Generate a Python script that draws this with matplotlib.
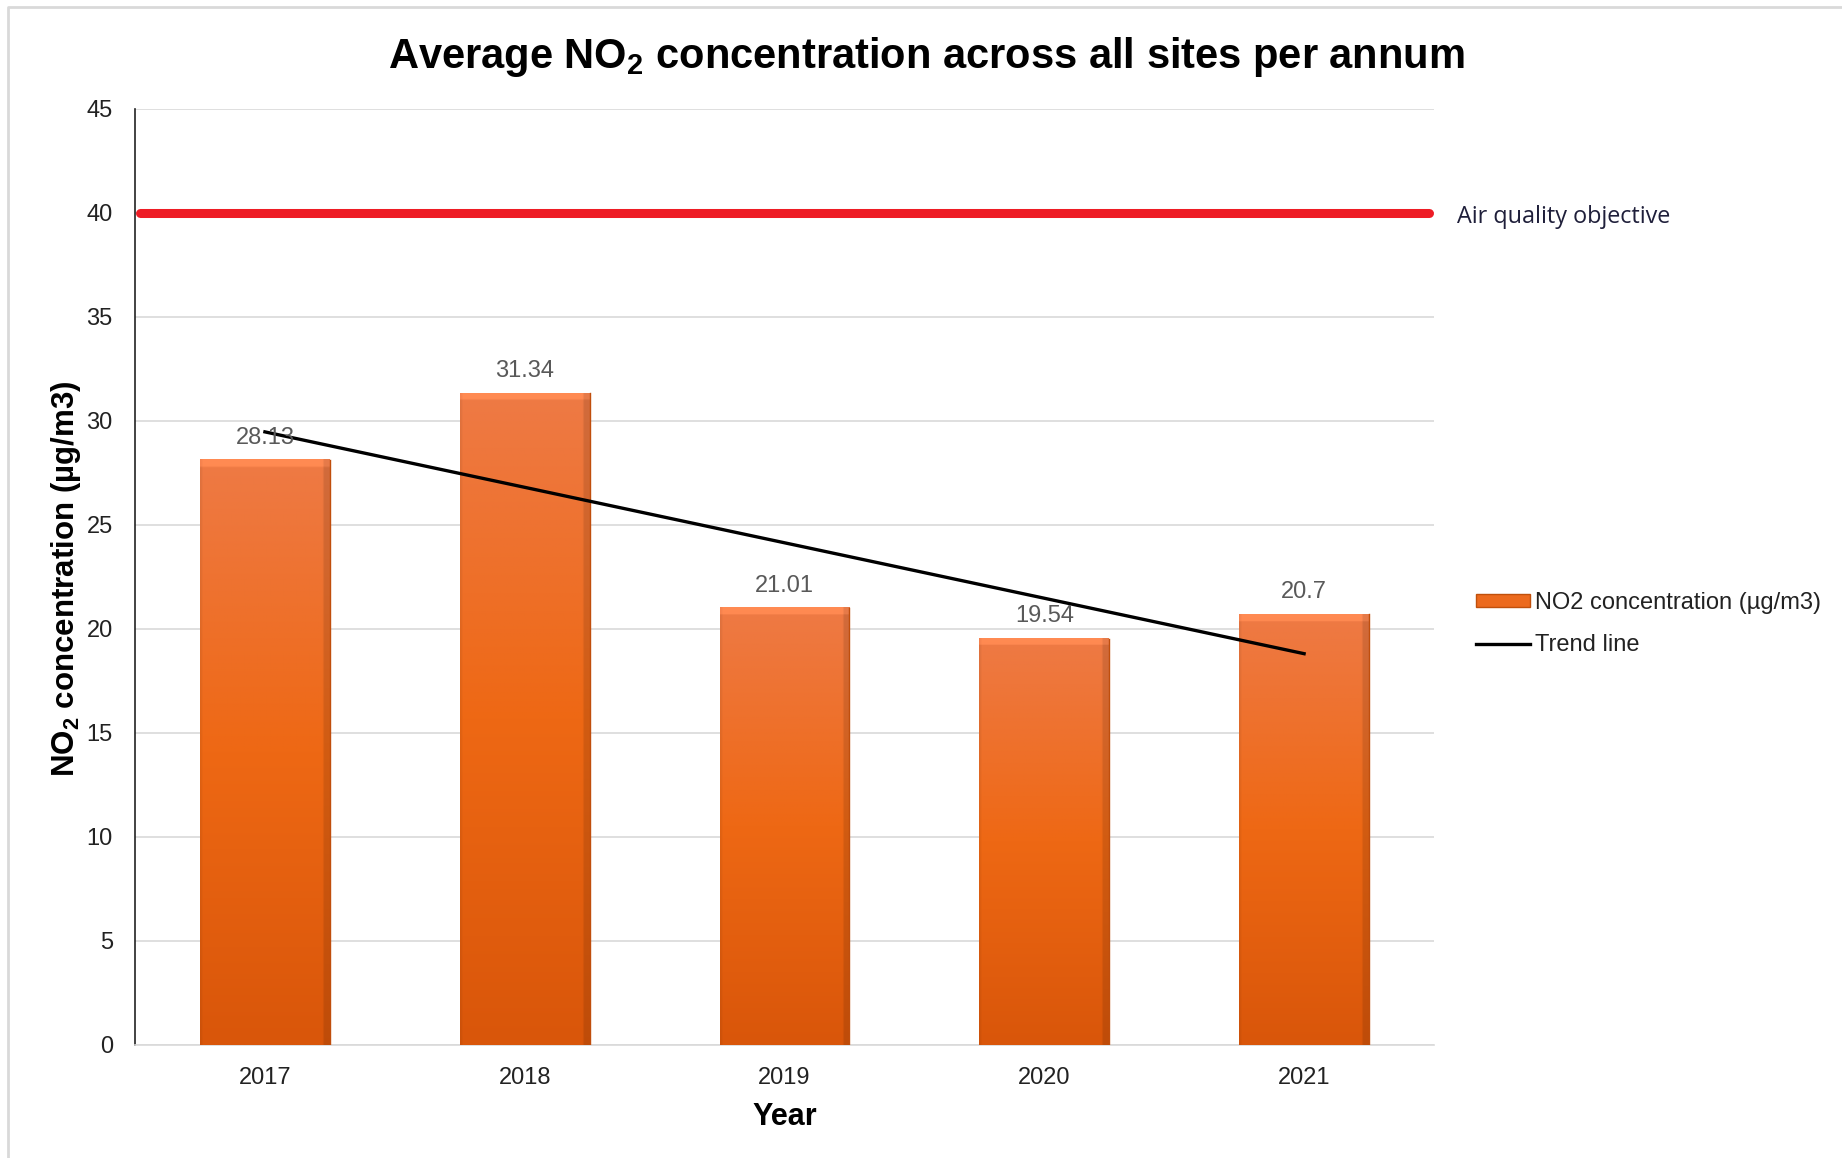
import numpy as np
import matplotlib
matplotlib.use('Agg')
import matplotlib.pyplot as plt
from matplotlib.colors import to_rgb
from matplotlib.lines import Line2D
from matplotlib.patches import Patch

plt.rcParams['font.family'] = ['Liberation Sans', 'DejaVu Sans']
plt.rcParams['mathtext.fontset'] = 'custom'
plt.rcParams['mathtext.rm'] = 'Liberation Sans:bold'
plt.rcParams['mathtext.bf'] = 'Liberation Sans:bold'
plt.rcParams['mathtext.default'] = 'bf'

years = ['2017', '2018', '2019', '2020', '2021']
no2 = [28.13, 31.34, 21.01, 19.54, 20.7]
value_labels = ['28.13', '31.34', '21.01', '19.54', '20.7']
objective = 40
yticks = [0, 5, 10, 15, 20, 25, 30, 35, 40, 45]

fig = plt.figure(figsize=(18.42, 11.58), dpi=100)
ax = fig.add_axes([0.0733, 0.0976, 0.7052, 0.8083])

x = np.arange(len(years))
width = 0.5

# bars: plain bars underneath, gradient images on top
bars = ax.bar(x, no2, width, color='#EC6A1E', zorder=2)

top_c = np.array(to_rgb('#EE7A45'))
mid_c = np.array(to_rgb('#EE6814'))
bot_c = np.array(to_rgb('#D9560A'))
n = 300
t = np.linspace(0, 1, n)[:, None]
col = np.where(t < 0.5, top_c + (mid_c - top_c) * (t / 0.5),
               mid_c + (bot_c - mid_c) * ((t - 0.5) / 0.5))
grad = np.repeat(col[:, None, :], 60, axis=1)
# darker right edge, slightly darker left edge
grad[:, -3:, :] *= 0.88
grad[:, :1, :] *= 0.94
for xi, v in zip(x, no2):
    img = grad.copy()
    k = max(2, int(round(n * 0.35 / v)))
    img[:k, :, :] = np.clip(img[:k, :, :] * 1.05 + 0.04, 0, 1)
    ax.imshow(img, extent=[xi - width / 2, xi + width / 2, 0, v],
              aspect='auto', zorder=3, interpolation='bilinear')
    ax.plot([xi + width / 2, xi + width / 2], [0, v], color='#C04E0C', lw=1.0, zorder=3.5)

for xi, v, lab in zip(x, no2, value_labels):
    ax.annotate(lab, (xi, v), xytext=(0, 8), textcoords='offset points',
                ha='center', va='bottom', fontsize=17, color='#595959', zorder=6)

# least squares trend
slope, intercept = np.polyfit(x, no2, 1)
trend_x = np.array([x[0], x[-1]])
ax.plot(trend_x, slope * trend_x + intercept, color='black', lw=2.4, zorder=5)

ax.plot([-0.48, 4.48], [objective, objective], color='#EE1C25', lw=6.5,
        solid_capstyle='round', zorder=4, clip_on=False)
ax.annotate('Air quality objective', (1.018, objective), xycoords=ax.get_yaxis_transform(),
            xytext=(0, -3), textcoords='offset points',
            ha='left', va='center', fontsize=16.8, color='#1F1F3A', family='Open Sans')

ax.set_xlim(-0.5, 4.5)
ax.set_ylim(0, 45)
ax.set_yticks(yticks)
ax.set_xticks(x)
ax.set_xticklabels(years)
ax.tick_params(axis='both', length=0, labelsize=17, colors='#222222')
ax.tick_params(axis='y', pad=16)
ax.tick_params(axis='x', pad=16)
ax.grid(axis='y', color='#D9D9D9', lw=1.2, zorder=0)
ax.set_axisbelow(True)
for s in ['top', 'right']:
    ax.spines[s].set_visible(False)
ax.spines['left'].set_color('#222222')
ax.spines['left'].set_linewidth(1.2)
ax.spines['bottom'].set_color('#D9D9D9')
ax.spines['bottom'].set_linewidth(1.2)

ax.set_xlabel('Year', fontsize=22, fontweight='bold', labelpad=9)
fig.text(0.036, 0.50, r'NO$_2$ concentration (µg/m3)', rotation=90, ha='center',
         va='center', fontsize=22.5, fontweight='bold')
fig.text(0.503, 0.951, r'Average NO$_2$ concentration across all sites per annum',
         ha='center', va='center', fontsize=30, fontweight='bold')

handles = [Patch(facecolor='#EC6A1E', edgecolor='#C0500C', lw=1),
           Line2D([0], [0], color='black', lw=2.4)]
fig.legend(handles, ['NO2 concentration (µg/m3)', 'Trend line'], loc='center left',
           bbox_to_anchor=(0.7895, 0.461), frameon=False, fontsize=17,
           handlelength=2.3, handleheight=0.45, handletextpad=0.2, labelspacing=0.85,
           labelcolor='#222222')

# thin frame along the top and left edges
fig.add_artist(Line2D([8 / 1842, 8 / 1842, 1.0], [0.0, 1 - 7 / 1158, 1 - 7 / 1158],
                      transform=fig.transFigure, color='#D9D9D9', lw=2))

fig.savefig('out.png', dpi=100, facecolor='white')
